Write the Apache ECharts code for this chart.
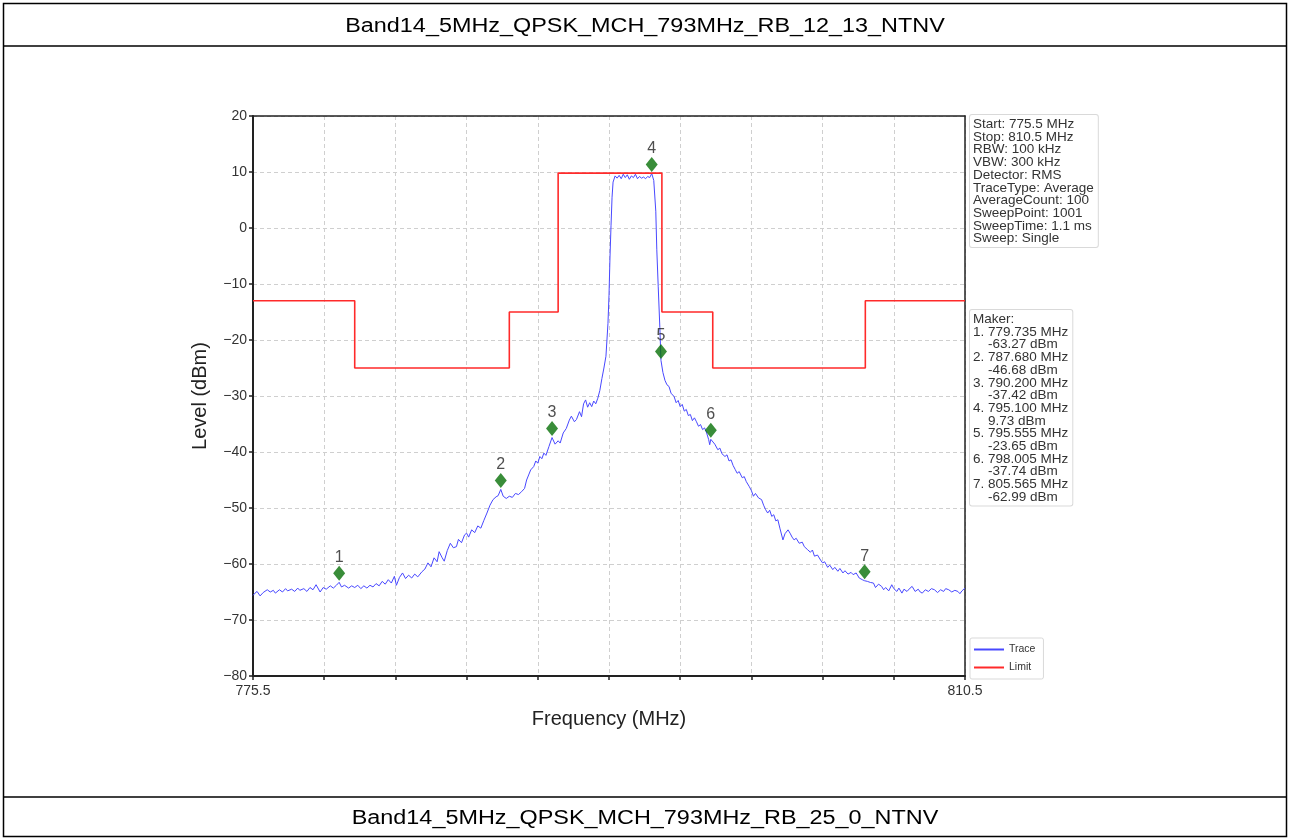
<!DOCTYPE html>
<html>
<head>
<meta charset="utf-8">
<script src="https://cdn.jsdelivr.net/npm/echarts@6/dist/echarts.min.js"></script>
<style>
html,body{margin:0;padding:0;background:#fff;}
#chart{width:1290px;height:840px;}
</style>
</head>
<body>
<div id="chart"></div>
<script>
const topTitle = 'Band14_5MHz_QPSK_MCH_793MHz_RB_12_13_NTNV';
const bottomTitle = 'Band14_5MHz_QPSK_MCH_793MHz_RB_25_0_NTNV';

const traceFreq = [775.5,775.6,775.7,775.85,776.0,776.2,776.35,776.5,776.6,776.8,776.95,777.1,777.2,777.4,777.55,777.7,777.8,778.0,778.15,778.3,778.45,778.6,778.8,778.95,779.1,779.3,779.45,779.6,779.735,779.85,780.0,780.2,780.35,780.5,780.65,780.8,780.95,781.1,781.25,781.4,781.55,781.7,781.85,782.0,782.15,782.3,782.45,782.55,782.7,782.85,783.0,783.15,783.3,783.45,783.6,783.8,783.95,784.1,784.25,784.4,784.55,784.65,784.8,784.9,785.05,785.2,785.35,785.5,785.6,785.75,785.9,786.0,786.1,786.25,786.4,786.55,786.7,786.85,787.0,787.15,787.3,787.45,787.55,787.68,787.8,787.95,788.1,788.25,788.4,788.55,788.7,788.85,788.95,789.05,789.15,789.3,789.4,789.5,789.6,789.7,789.8,789.9,790.05,790.2,790.35,790.5,790.6,790.75,790.9,791.05,791.15,791.3,791.4,791.55,791.65,791.75,791.85,791.95,792.05,792.15,792.25,792.35,792.45,792.55,792.65,792.75,792.85,792.95,793.0,793.05,793.1,793.15,793.2,793.3,793.4,793.5,793.6,793.7,793.8,793.9,794.0,794.1,794.2,794.3,794.4,794.5,794.6,794.7,794.8,794.9,795.0,795.1,795.2,795.3,795.35,795.42,795.5,795.555,795.65,795.75,795.85,795.95,796.05,796.2,796.3,796.4,796.5,796.6,796.7,796.8,796.9,797.0,797.1,797.2,797.3,797.4,797.5,797.6,797.7,797.8,797.9,797.95,798.005,798.1,798.2,798.35,798.45,798.55,798.7,798.8,798.9,799.0,799.1,799.2,799.3,799.4,799.55,799.65,799.75,799.9,800.0,800.1,800.2,800.35,800.5,800.6,800.7,800.8,800.9,801.0,801.1,801.2,801.3,801.4,801.5,801.55,801.65,801.8,801.9,802.0,802.1,802.2,802.35,802.5,802.6,802.75,802.9,803.0,803.1,803.25,803.4,803.5,803.6,803.75,803.85,804.0,804.1,804.25,804.35,804.5,804.6,804.75,804.9,805.0,805.15,805.3,805.45,805.565,805.7,805.85,806.0,806.1,806.25,806.4,806.5,806.6,806.75,806.9,807.0,807.15,807.25,807.4,807.5,807.65,807.8,807.9,808.05,808.2,808.3,808.4,808.55,808.7,808.85,809.0,809.15,809.3,809.45,809.55,809.7,809.85,810.0,810.15,810.25,810.35,810.5];
const traceLevel = [-65.6,-65.2,-64.9,-65.7,-65.1,-64.6,-65.0,-64.7,-65.2,-64.6,-65.0,-64.4,-64.8,-64.5,-64.9,-64.3,-64.7,-64.4,-64.9,-64.2,-64.6,-63.7,-65.0,-64.2,-64.5,-63.9,-64.3,-63.8,-63.27,-64.1,-63.8,-64.3,-63.9,-64.2,-63.8,-64.4,-63.9,-64.3,-63.8,-64.1,-63.5,-63.9,-63.1,-63.6,-62.8,-63.4,-62.2,-63.8,-62.4,-61.6,-62.6,-62.0,-62.5,-61.8,-62.3,-61.4,-60.9,-59.8,-60.5,-58.9,-59.6,-57.8,-58.9,-59.5,-57.6,-56.3,-57.1,-56.9,-55.6,-56.2,-54.8,-54.5,-55.2,-53.9,-54.4,-53.2,-53.6,-52.2,-50.9,-49.5,-48.5,-48.0,-47.8,-46.68,-47.9,-48.3,-47.9,-48.1,-47.4,-47.6,-47.1,-46.5,-45.0,-44.1,-43.2,-42.6,-41.6,-42.0,-40.8,-41.2,-40.2,-40.6,-39.0,-37.42,-38.6,-38.0,-38.4,-36.6,-35.8,-34.3,-33.6,-34.6,-34.2,-32.8,-33.7,-31.4,-30.7,-32.0,-31.2,-31.9,-30.9,-31.4,-30.4,-29.0,-26.9,-25.0,-22.9,-17.0,-12.0,-5.0,0.5,5.5,8.2,9.3,8.9,9.4,8.8,9.6,9.0,9.5,8.7,9.3,9.0,9.6,8.8,9.2,8.9,9.1,8.8,9.2,9.0,9.73,8.5,3.0,-3.9,-10.5,-17.8,-23.65,-25.8,-27.2,-28.0,-28.3,-29.5,-30.1,-31.2,-30.8,-31.9,-31.5,-32.7,-32.4,-33.5,-33.3,-34.4,-33.9,-34.6,-35.4,-35.1,-36.0,-35.7,-36.6,-37.8,-38.7,-37.74,-37.4,-38.6,-39.6,-39.3,-40.3,-40.8,-40.5,-41.6,-41.4,-42.4,-43.1,-43.8,-43.5,-44.6,-44.4,-45.3,-46.2,-46.9,-47.9,-47.4,-48.2,-48.5,-49.5,-50.3,-50.9,-50.4,-51.5,-51.2,-52.3,-52.1,-53.6,-55.0,-55.7,-54.6,-53.9,-54.5,-55.2,-55.7,-55.4,-56.3,-56.1,-56.9,-57.4,-57.9,-57.5,-58.6,-58.4,-59.3,-59.8,-59.6,-60.6,-60.2,-61.0,-60.6,-61.3,-60.8,-61.6,-61.2,-61.8,-61.5,-61.9,-61.6,-62.5,-62.8,-62.99,-63.1,-63.3,-63.4,-64.2,-63.6,-64.0,-64.6,-64.2,-64.8,-63.7,-64.4,-64.9,-64.3,-65.2,-64.5,-64.9,-64.3,-64.0,-64.9,-64.5,-65.0,-65.2,-64.6,-64.9,-64.4,-64.6,-65.1,-64.6,-64.9,-64.4,-64.6,-65.0,-64.7,-64.9,-65.3,-64.8,-64.3];

const limitFreq = [775.5,780.5,780.5,788.1,788.1,790.5,790.5,795.6,795.6,798.1,798.1,805.6,805.6,810.5];
const limitLevel = [-13,-13,-25,-25,-15,-15,9.8,9.8,-15,-15,-25,-25,-13,-13];

const markerNames = ['1','2','3','4','5','6','7'];
const markerFreq = [779.735,787.680,790.200,795.100,795.555,798.005,805.565];
const markerLevel = [-63.27,-46.68,-37.42,9.73,-23.65,-37.74,-62.99];

const yTicks = [-80,-70,-60,-50,-40,-30,-20,-10,0,10,20];
const xEndLabels = [775.5, 810.5];

const settingsLines = ['Start: 775.5 MHz','Stop: 810.5 MHz','RBW: 100 kHz','VBW: 300 kHz','Detector: RMS','TraceType: Average','AverageCount: 100','SweepPoint: 1001','SweepTime: 1.1 ms','Sweep: Single'];

const FONT = '"Liberation Sans", Arial, sans-serif';

const markerLines = ['Maker:'];
markerNames.forEach((n, i) => {
  markerLines.push(n + '. ' + markerFreq[i].toFixed(3) + ' MHz');
  markerLines.push('    ' + markerLevel[i].toFixed(2) + ' dBm');
});

const chart = echarts.init(document.getElementById('chart'), null, {renderer: 'canvas'});

const traceData = traceFreq.map((f, i) => [f, traceLevel[i]]);
const limitData = limitFreq.map((f, i) => [f, limitLevel[i]]);
const markerData = markerFreq.map((f, i) => ({value: [f, markerLevel[i]], name: markerNames[i]}));

const frameAxisLine = {show: true, onZero: false, lineStyle: {color: '#222', width: 1.5}};

const option = {
  backgroundColor: '#ffffff',
  animation: false,
  textStyle: {fontFamily: FONT},
  grid: {left: 253, right: 325, top: 116, bottom: 164, show: false},
  xAxis: [{
    type: 'value', min: 775.5, max: 810.5, interval: 3.5,
    name: 'Frequency (MHz)', nameLocation: 'middle', nameGap: 33,
    nameTextStyle: {fontSize: 20, color: '#222', fontFamily: FONT},
    axisLine: {show: true, onZero: false, lineStyle: {color: '#222', width: 2}},
    axisTick: {show: true, inside: false, length: 4, lineStyle: {color: '#222', width: 1.5}},
    axisLabel: {
      fontSize: 14, color: '#333', margin: 8, fontFamily: FONT,
      showMinLabel: true, showMaxLabel: true,
      formatter: v => xEndLabels.some(e => Math.abs(e - v) < 1e-6) ? v.toFixed(1) : ''
    },
    splitLine: {show: true, lineStyle: {color: '#cfcfcf', type: [4, 3], width: 1}}
  }, {
    type: 'value', position: 'top', min: 775.5, max: 810.5, interval: 3.5,
    axisLine: frameAxisLine, axisTick: {show: false}, axisLabel: {show: false}, splitLine: {show: false}
  }],
  yAxis: [{
    type: 'value', min: yTicks[0], max: yTicks[yTicks.length - 1], interval: 10,
    name: 'Level (dBm)', nameLocation: 'middle', nameGap: 43,
    nameTextStyle: {fontSize: 20, color: '#222', fontFamily: FONT},
    axisLine: {show: true, onZero: false, lineStyle: {color: '#222', width: 2}},
    axisTick: {show: true, inside: false, length: 4, lineStyle: {color: '#222', width: 1.5}},
    axisLabel: {fontSize: 14, color: '#333', margin: 6, fontFamily: FONT, formatter: v => String(v).replace('-', '\u2212')},
    splitLine: {show: true, lineStyle: {color: '#cfcfcf', type: [4, 3], width: 1}}
  }, {
    type: 'value', position: 'right', min: yTicks[0], max: yTicks[yTicks.length - 1], interval: 10,
    axisLine: frameAxisLine, axisTick: {show: false}, axisLabel: {show: false}, splitLine: {show: false}
  }],
  legend: {
    orient: 'vertical', left: 970, top: 638,
    data: ['Trace', 'Limit'],
    icon: 'rect', itemWidth: 30, itemHeight: 2, itemGap: 7,
    padding: [6, 8, 6, 4],
    borderColor: '#d9d9d9', borderWidth: 1, borderRadius: 2,
    textStyle: {fontSize: 10.5, color: '#333', fontFamily: FONT}
  },
  series: [
    {
      name: 'Trace', type: 'line', data: traceData, showSymbol: false, symbol: 'none',
      lineStyle: {color: '#4848ff', width: 1}, itemStyle: {color: '#4848ff'}, z: 2
    },
    {
      name: 'Limit', type: 'line', data: limitData, showSymbol: false, symbol: 'none',
      lineStyle: {color: '#ff2a2a', width: 1.6}, itemStyle: {color: '#ff2a2a'}, z: 3
    },
    {
      name: 'Markers', type: 'scatter', data: markerData,
      symbol: 'diamond', symbolSize: [12, 15], symbolOffset: [0, -9],
      itemStyle: {color: '#077007'}, z: 5,
      label: {show: true, position: 'top', distance: 0, formatter: p => p.name, fontSize: 16, color: '#222', fontFamily: FONT, offset: [0, 0]}
    }
  ],
  graphic: [
    {type: 'rect', shape: {x: 3.5, y: 3.5, width: 1283, height: 833}, style: {fill: 'none', stroke: '#000', lineWidth: 1.5}, silent: true},
    {type: 'line', shape: {x1: 3.5, y1: 46, x2: 1286.5, y2: 46}, style: {stroke: '#000', lineWidth: 1.5}, silent: true},
    {type: 'line', shape: {x1: 3.5, y1: 797, x2: 1286.5, y2: 797}, style: {stroke: '#000', lineWidth: 1.5}, silent: true},
    {type: 'text', x: 645, y: 26, scaleX: 1.17, style: {text: topTitle, font: '20px ' + FONT, fill: '#000', align: 'center', verticalAlign: 'middle'}, silent: true},
    {type: 'text', x: 645, y: 818, scaleX: 1.17, style: {text: bottomTitle, font: '20px ' + FONT, fill: '#000', align: 'center', verticalAlign: 'middle'}, silent: true},
    {type: 'text', x: 970, y: 115, style: {text: settingsLines.join('\n'), font: '13.5px ' + FONT, fill: '#333', lineHeight: 12.7, padding: [3, 4, 2, 3], backgroundColor: '#fff', borderColor: '#d9d9d9', borderWidth: 1, borderRadius: 2}, silent: true},
    {type: 'text', x: 970, y: 310, style: {text: markerLines.join('\n'), font: '13.5px ' + FONT, fill: '#333', lineHeight: 12.7, padding: [3, 4, 2, 3], backgroundColor: '#fff', borderColor: '#d9d9d9', borderWidth: 1, borderRadius: 2}, silent: true}
  ]
};
chart.setOption(option);
</script>
</body>
</html>
